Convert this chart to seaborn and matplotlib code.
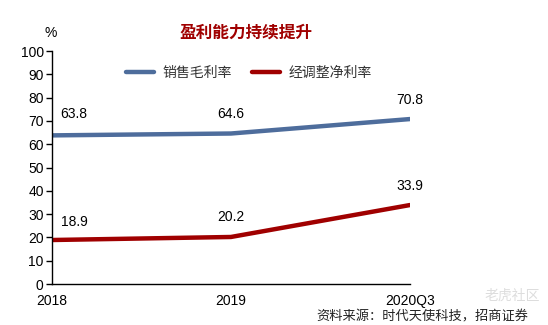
import matplotlib
matplotlib.use("Agg")
import matplotlib.pyplot as plt
import seaborn as sns
import pandas as pd

categories = ["2018", "2019", "2020Q3"]
gross_margin = [63.8, 64.6, 70.8]
net_margin = [18.9, 20.2, 33.9]
series_names = ["销售毛利率", "经调整净利率"]
yticks = list(range(0, 101, 10))

sns.set_theme(style="white")
plt.rcParams['font.family'] = ['Liberation Sans', 'Noto Sans CJK SC', 'DejaVu Sans']

df = pd.DataFrame({
    "x": list(range(len(categories))) * 2,
    "value": gross_margin + net_margin,
    "series": [series_names[0]] * 3 + [series_names[1]] * 3,
})

fig = plt.figure(figsize=(5.48, 3.25), dpi=100)
ax = fig.add_axes([0.0949, 0.126, 0.653, 0.717])
palette = {series_names[0]: "#4E6D9C", series_names[1]: "#A00000"}
sns.lineplot(data=df, x="x", y="value", hue="series", palette=palette,
             linewidth=3.2, ax=ax, legend=True)

ax.set_xlim(0, 2)
ax.set_ylim(0, 100)
ax.set_yticks(yticks)
ax.set_xticks(range(len(categories)))
ax.set_xticklabels(categories)
ax.set_xlabel("")
ax.set_ylabel("")
for s in ["top", "right"]:
    ax.spines[s].set_visible(False)
for s in ["left", "bottom"]:
    ax.spines[s].set_color("black")
    ax.spines[s].set_linewidth(1.0)
ax.tick_params(axis="y", left=True, length=4, width=1, color="black", labelsize=10, pad=2, labelcolor="black")
ax.tick_params(axis="x", bottom=False, labelsize=10, pad=1.5, labelcolor="black")

for i, v in enumerate(gross_margin):
    ax.annotate(f"{v}", (i, v), xytext=(0 if i else 16, 9 if i else 10), textcoords="offset points",
                ha="center", va="bottom", fontsize=10, color="black")
for i, v in enumerate(net_margin):
    ax.annotate(f"{v}", (i, v), xytext=(0 if i else 16, 9 if i else 8), textcoords="offset points",
                ha="center", va="bottom", fontsize=10, color="black")

leg = ax.legend(loc="upper center", bbox_to_anchor=(0.55, 0.99), ncol=2, frameon=False,
                fontsize=10, handlelength=2.0, columnspacing=1.5, handletextpad=0.6)
for t in leg.get_texts():
    t.set_family(['Noto Sans CJK SC', 'DejaVu Sans'])
    t.set_color("#333333")

fig.text(0.448, 0.90, "盈利能力持续提升", ha="center", va="center", fontsize=12,
         fontweight="bold", color="#A00000", family=['Noto Sans CJK SC', 'DejaVu Sans'])
fig.text(0.092, 0.897, "%", ha="center", va="center", fontsize=10, color="black")
fig.text(0.965, 0.025, "资料来源：时代天使科技，招商证券", ha="right", va="center", fontsize=9.5,
         style="italic", color="#222222", family=['Noto Sans CJK SC', 'DejaVu Sans'])
fig.text(0.985, 0.09, "老虎社区", ha="right", va="center", fontsize=10,
         color="#dddddd", family=['Noto Sans CJK SC', 'DejaVu Sans'])

fig.savefig("out.png", dpi=100)
